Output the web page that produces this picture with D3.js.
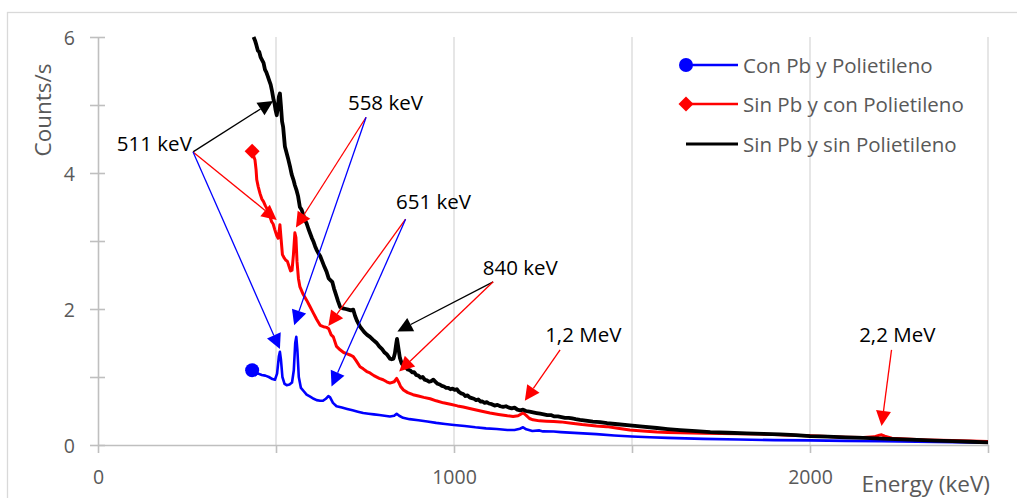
<!DOCTYPE html>
<html>
<head>
<meta charset="utf-8">
<script src="https://cdn.jsdelivr.net/npm/d3@7"></script>
<style>
  html, body { margin: 0; padding: 0; background: #ffffff; }
  svg { display: block; font-family: "Open Sans", "DejaVu Sans", sans-serif; }
</style>
</head>
<body>
<svg id="chart" width="1017" height="498"></svg>
<script>
// ---------------- DATA ----------------
const seriesNames = ["Con Pb y Polietileno", "Sin Pb y con Polietileno", "Sin Pb y sin Polietileno"];

const blueE = [433,440,450,460,470,480,490,497,503,508,511,514,518,524,530,538,545,550,554,557,560,564,570,578,586,596,606,614,624,632,640,647,652,660,670,685,700,715,730,745,760,775,790,805,820,832,839,846,857,875,900,925,950,975,1000,1030,1060,1090,1120,1150,1170,1185,1194,1203,1220,1240,1250,1280,1300,1350,1400,1450,1500,1550,1600,1700,1800,1900,2000,2100,2200,2300,2400,2500];
const blueC = [1.10,1.06,1.05,1.03,1.02,1.00,0.97,0.96,1.05,1.30,1.37,1.25,1.00,0.90,0.88,0.89,0.92,1.10,1.50,1.59,1.40,1.00,0.84,0.79,0.74,0.71,0.68,0.66,0.65,0.65,0.68,0.72,0.70,0.62,0.57,0.55,0.53,0.51,0.49,0.47,0.46,0.45,0.44,0.43,0.42,0.43,0.46,0.43,0.40,0.38,0.365,0.345,0.325,0.31,0.295,0.28,0.26,0.245,0.235,0.22,0.22,0.24,0.26,0.23,0.205,0.215,0.20,0.198,0.19,0.175,0.16,0.14,0.125,0.115,0.105,0.09,0.08,0.072,0.068,0.06,0.055,0.048,0.04,0.035];

const redE = [433,437,441,444,446,450,455,460,465,470,474,478,483,488,492,497,502,506,509,511,514,518,522,527,532,537,541,545,549,553,556,559,563,567,576,586,595,605,614,624,633,642,648,655,661,670,680,690,700,710,717,725,736,745,755,764,775,790,801,811,820,832,839,845,850,858,870,885,900,915,933,950,970,990,1010,1026,1050,1075,1101,1125,1150,1166,1180,1190,1195,1202,1212,1222,1240,1260,1280,1300,1330,1360,1400,1429,1460,1494,1530,1570,1600,1635,1700,1750,1800,1860,1900,1950,2000,2050,2100,2150,2180,2195,2201,2210,2230,2270,2330,2400,2450,2500];
const redC = [4.32,4.25,4.19,4.05,3.90,3.80,3.70,3.62,3.58,3.52,3.48,3.40,3.36,3.28,3.25,3.16,3.08,3.04,3.15,3.24,3.05,2.80,2.76,2.72,2.70,2.62,2.56,2.57,2.80,3.12,3.05,2.70,2.45,2.33,2.22,2.13,2.04,1.94,1.85,1.76,1.74,1.73,1.71,1.62,1.59,1.45,1.40,1.36,1.34,1.32,1.30,1.24,1.15,1.12,1.08,1.06,1.02,0.98,0.96,0.93,0.91,0.93,0.98,0.92,0.86,0.81,0.77,0.74,0.72,0.70,0.68,0.65,0.62,0.60,0.575,0.56,0.53,0.50,0.47,0.45,0.43,0.42,0.43,0.46,0.47,0.44,0.39,0.37,0.355,0.35,0.345,0.34,0.32,0.30,0.28,0.27,0.245,0.22,0.205,0.19,0.185,0.18,0.172,0.168,0.165,0.16,0.155,0.145,0.135,0.125,0.115,0.11,0.12,0.145,0.15,0.13,0.10,0.09,0.075,0.065,0.058,0.05];

const blackE = [437,441,445,449,453,457,461,465,469,473,477,481,485,489,493,496,499,502,505,508,511,514,517,520,525,530,535,540,544,549,553,558,562,567,572,577,581,586,591,596,601,606,610,614,619,624,630,636,642,648,652,658,663,668,674,680,688,696,703,710,717,722,728,736,742,748,756,764,772,783,790,798,805,812,820,825,830,834,838,840,844,848,853,858,864,870,876,882,888,894,900,906,912,918,924,930,936,942,948,954,960,966,972,978,984,990,996,1002,1008,1014,1020,1026,1032,1038,1044,1050,1056,1062,1068,1074,1080,1086,1092,1098,1106,1114,1122,1130,1138,1146,1154,1162,1170,1178,1186,1194,1202,1212,1222,1232,1242,1252,1262,1272,1282,1292,1302,1312,1322,1332,1342,1354,1370,1390,1410,1430,1460,1494,1530,1570,1600,1635,1680,1720,1770,1822,1870,1916,1960,2000,2050,2100,2150,2187,2220,2260,2300,2350,2400,2450,2500];
const blackC = [6.00,5.95,5.88,5.80,5.78,5.70,5.66,5.62,5.52,5.48,5.42,5.36,5.30,5.20,5.08,5.02,4.92,4.85,4.95,5.12,5.17,4.98,4.76,4.68,4.39,4.29,4.19,4.08,3.98,3.90,3.82,3.74,3.66,3.50,3.46,3.38,3.31,3.26,3.18,3.11,3.04,2.98,2.92,2.87,2.82,2.78,2.70,2.62,2.55,2.45,2.43,2.40,2.30,2.22,2.12,2.03,2.01,2.00,1.99,1.98,1.99,1.90,1.82,1.74,1.70,1.66,1.62,1.59,1.55,1.50,1.45,1.41,1.36,1.33,1.27,1.26,1.27,1.35,1.50,1.56,1.42,1.28,1.20,1.17,1.15,1.11,1.10,1.07,1.07,1.03,1.02,0.99,1.00,0.96,0.95,0.93,0.94,0.96,0.93,0.90,0.89,0.87,0.86,0.84,0.84,0.82,0.83,0.81,0.82,0.78,0.76,0.75,0.72,0.73,0.70,0.69,0.68,0.66,0.67,0.64,0.64,0.62,0.63,0.61,0.60,0.58,0.59,0.57,0.56,0.57,0.55,0.54,0.55,0.52,0.51,0.52,0.50,0.49,0.48,0.47,0.46,0.45,0.44,0.44,0.42,0.42,0.41,0.40,0.40,0.39,0.38,0.37,0.36,0.345,0.335,0.32,0.305,0.29,0.27,0.25,0.235,0.22,0.205,0.19,0.18,0.17,0.163,0.157,0.145,0.13,0.122,0.112,0.105,0.098,0.09,0.083,0.075,0.065,0.057,0.048,0.04];

const xTickValues = [0, 500, 1000, 1500, 2000, 2500];
const xTickLabels = ["0", "", "1000", "", "2000", ""];
const yTickValues = [0, 1, 2, 3, 4, 5, 6];
const yTickLabels = ["0", "", "2", "", "4", "", "6"];

// annotations: label, label anchor (keV, counts), arrow origin, arrow tips [keV, counts, colorIndex]
const annLabels = ["511 keV", "558 keV", "651 keV", "840 keV", "1,2 MeV", "2,2 MeV"];
const annLabelPos = [[53, 4.33], [702, 4.92], [837, 3.47], [1081, 2.50], [1256, 1.51], [2138, 1.51]];
const annOrigin = [[267, 4.31], [753, 4.82], [864, 3.32], [1110, 2.40], [1298, 1.40], [2229, 1.40]];
const annTips = [
  [[492, 5.06, 2], [502, 3.31, 1], [511, 1.41, 0]],
  [[556, 3.20, 1], [551, 1.76, 0]],
  [[647, 1.75, 1], [656, 0.86, 0]],
  [[841, 1.67, 2], [846, 1.08, 1]],
  [[1199, 0.65, 1]],
  [[2201, 0.28, 1]]
];

// ---------------- CHART ----------------
const colors = ["#0000ff", "#ff0000", "#000000"];
const svg = d3.select("#chart");
const x = d3.scaleLinear().domain([0, 2500]).range([98, 988]);
const y = d3.scaleLinear().domain([0, 6]).range([445, 37]);
const axisColor = "#bfbfbf";
const textColor = "#595959";

// outer border
svg.append("rect").attr("x", 7.5).attr("y", 12.5).attr("width", 1030).attr("height", 500)
  .attr("fill", "none").attr("stroke", "#d9d9d9").attr("stroke-width", 1.3);

// vertical gridlines
svg.append("g").selectAll("line").data(xTickValues.filter(v => v > 0)).join("line")
  .attr("x1", d => x(d)).attr("x2", d => x(d)).attr("y1", y(6)).attr("y2", y(0))
  .attr("stroke", "#d9d9d9").attr("stroke-width", 1.3);

// x axis
const gx = svg.append("g").attr("transform", `translate(0,${y(0)})`)
  .call(d3.axisBottom(x).tickValues(xTickValues).tickSize(8).tickSizeOuter(0)
    .tickFormat((d, i) => xTickLabels[i]));
gx.select(".domain").attr("stroke", axisColor).attr("stroke-width", 1.6);
gx.selectAll(".tick line").attr("stroke", axisColor).attr("stroke-width", 1.6);
gx.selectAll(".tick text").attr("fill", textColor).attr("font-size", "19.5px")
  .attr("font-family", "'Open Sans', sans-serif").attr("y", 38.5).attr("dy", 0);

// y axis
const gy = svg.append("g").attr("transform", `translate(${x(0)},0)`)
  .call(d3.axisLeft(y).tickValues(yTickValues).tickSize(8).tickSizeOuter(0)
    .tickFormat((d, i) => yTickLabels[i]));
gy.select(".domain").attr("stroke", axisColor).attr("stroke-width", 1.6);
gy.selectAll(".tick line").attr("stroke", axisColor).attr("stroke-width", 1.6).attr("x1", 7).attr("x2", -8);
gy.selectAll(".tick text").attr("fill", textColor).attr("font-size", "19.5px")
  .attr("font-family", "'Open Sans', sans-serif").attr("x", -23).attr("dy", "0.36em");

// axis titles
svg.append("text").attr("transform", "translate(51,110) rotate(-90)")
  .attr("text-anchor", "middle").attr("fill", textColor).attr("font-size", "22.5px")
  .text("Counts/s");
svg.append("text").attr("x", 990).attr("y", 491.5).attr("text-anchor", "end")
  .attr("fill", textColor).attr("font-size", "22.5px").text("Energy (keV)");

// series
const series = [
  { E: blueE, C: blueC, w: 2.6 },
  { E: redE, C: redC, w: 3.0 },
  { E: blackE, C: blackC, w: 3.8 }
];
const line = d3.line().x(d => x(d[0])).y(d => y(d[1]));
const plot = svg.append("g");
[0, 1, 2].forEach(i => {
  const s = series[i];
  const pts = s.E.map((e, k) => [e, s.C[k]]);
  plot.append("path").datum(pts).attr("d", line).attr("fill", "none")
    .attr("stroke", colors[i]).attr("stroke-width", s.w).attr("stroke-linejoin", "round");
});
// first point markers (circle, and a square turned 45 degrees)
function marker(g, i, cx, cy) {
  if (i === 0) {
    g.append("circle").attr("cx", cx).attr("cy", cy).attr("r", 7).attr("fill", colors[0]);
  } else {
    g.append("rect").attr("x", -5.3).attr("y", -5.3).attr("width", 10.6).attr("height", 10.6)
      .attr("transform", `translate(${cx},${cy}) rotate(45)`).attr("fill", colors[1]);
  }
}
[0, 1].forEach(i => marker(plot, i, x(series[i].E[0]), y(series[i].C[0])));

// annotations
const ann = svg.append("g");
function arrow(x0, y0, x1, y1, color) {
  const dx = x1 - x0, dy = y1 - y0, L = Math.hypot(dx, dy);
  const ux = dx / L, uy = dy / L, hl = 15, hw = 7.5;
  const bx = x1 - ux * hl, by = y1 - uy * hl;
  ann.append("line").attr("x1", x0).attr("y1", y0).attr("x2", bx).attr("y2", by)
    .attr("stroke", color).attr("stroke-width", 1.3);
  ann.append("path").attr("d",
    `M${x1},${y1}L${bx - uy * hw},${by + ux * hw}L${bx + uy * hw},${by - ux * hw}Z`)
    .attr("fill", color);
}
annLabels.forEach((lab, i) => {
  ann.append("text").attr("x", x(annLabelPos[i][0])).attr("y", y(annLabelPos[i][1]))
    .attr("fill", "#000").attr("font-size", "20.5px").text(lab);
  annTips[i].forEach(t => {
    arrow(x(annOrigin[i][0]), y(annOrigin[i][1]), x(t[0]), y(t[1]), colors[t[2]]);
  });
});

// legend
const legY = [65, 104, 144];
const leg = svg.append("g");
seriesNames.forEach((name, i) => {
  leg.append("line").attr("x1", 686).attr("x2", 738).attr("y1", legY[i]).attr("y2", legY[i])
    .attr("stroke", colors[i]).attr("stroke-width", i === 2 ? 3 : 2.6);
  if (i < 2) marker(leg, i, 686, legY[i]);
  leg.append("text").attr("x", 743).attr("y", legY[i] + 7.5).attr("fill", textColor)
    .attr("font-size", "20.5px").text(name);
});
</script>
</body>
</html>
